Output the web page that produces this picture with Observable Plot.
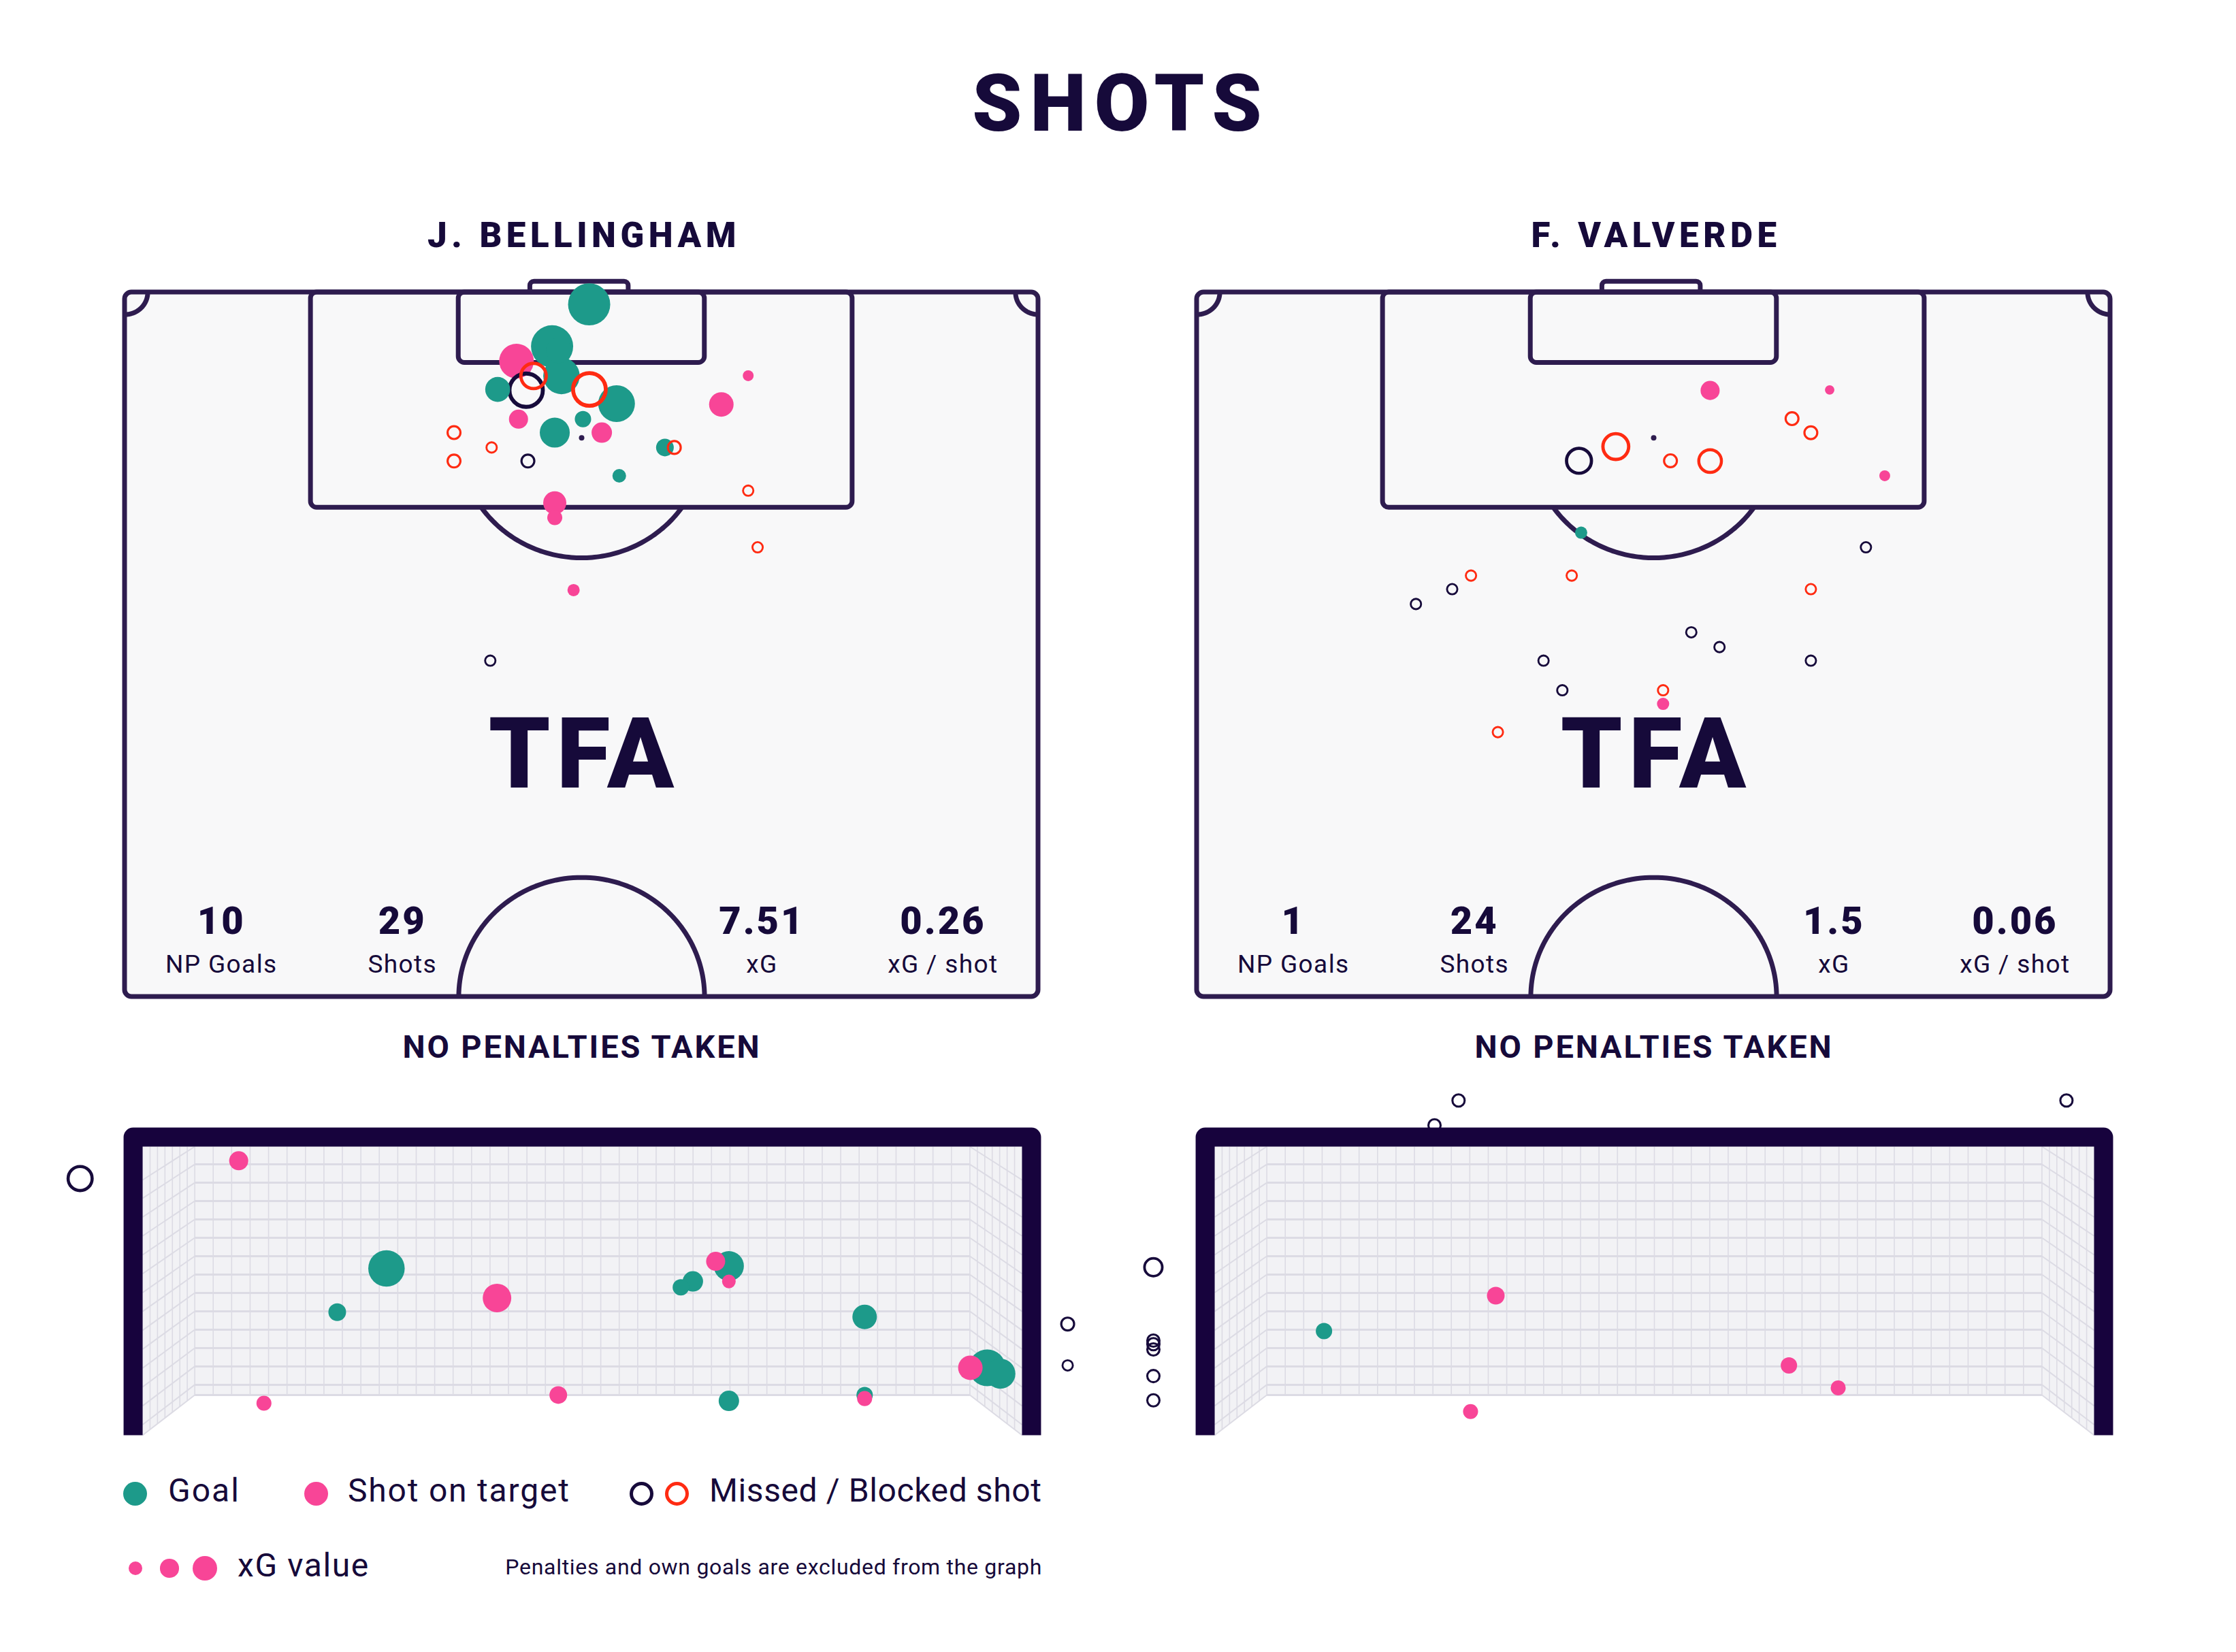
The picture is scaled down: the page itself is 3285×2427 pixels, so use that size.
<!DOCTYPE html>
<html><head><meta charset="utf-8">
<script src="https://cdn.jsdelivr.net/npm/d3@7"></script>
<script src="https://cdn.jsdelivr.net/npm/@observablehq/plot@0.6"></script>
<style>
body{margin:0;background:#fff;}
#page{position:relative;width:3285px;height:2427px;overflow:hidden;background:#fff;font-family:Roboto,"Noto Sans",sans-serif;color:#160a3a;}
.t{position:absolute;line-height:1;white-space:nowrap;}
.c{transform:translateX(-50%);}
.dot{position:absolute;border-radius:50%;box-sizing:border-box;}
</style></head><body><div id="page"></div>
<script>
// ---------------- DATA ----------------
const title = "SHOTS";
const players = ["J. BELLINGHAM", "F. VALVERDE"];
const penaltyNote = "NO PENALTIES TAKEN";
const statLabels = ["NP Goals", "Shots", "xG", "xG / shot"];
const bellinghamStats = ["10", "29", "7.51", "0.26"];
const valverdeStats = ["1", "24", "1.5", "0.06"];

// Shot locations on the half pitch (x across 0-68, y from goal line 0-54)
const bellShotX = [30.42, 29.87, 34.58, 24.5, 24.5, 27.3, 30.0, 40.9, 46.4, 47.1, 27.2,
  32.3, 34.56, 31.8, 29.15, 32.5, 27.75, 36.6, 44.4, 46.4, 29.3, 34.1, 32.0, 35.5, 40.2, 36.8, 32.0, 32.0, 33.4];
const bellShotY = [6.41, 7.50, 7.44, 10.75, 12.93, 11.89, 12.93, 11.89, 15.20, 19.54, 28.23,
  4.45, 0.92, 4.14, 5.27, 6.41, 7.44, 8.53, 8.59, 6.39, 9.72, 9.72, 10.75, 10.75, 11.89, 14.06, 16.13, 17.27, 22.82];
const bellShotXG = [0.30, 0.52, 0.50, 0.077, 0.077, 0.05, 0.077, 0.077, 0.05, 0.05, 0.05,
  0.30, 0.83, 0.83, 0.56, 0.62, 0.29, 0.63, 0.28, 0.055, 0.17, 0.125, 0.42, 0.195, 0.146, 0.087, 0.25, 0.105, 0.07];
const bellShotOutcome = ["Blocked", "Missed", "Blocked", "Blocked", "Blocked", "Blocked", "Missed", "Blocked", "Blocked", "Blocked", "Missed",
  "Goal", "Goal", "Goal", "On target", "Goal", "Goal", "Goal", "On target", "On target", "On target", "Goal", "Goal", "On target", "Goal", "Goal", "On target", "On target", "On target"];

const valvShotX = [44.3, 45.7, 31.18, 28.44, 35.25, 38.2, 49.8, 20.4, 19.0, 16.3, 27.9, 45.7, 36.8, 38.9, 25.8, 45.7, 27.2, 34.7, 22.4,
  38.2, 47.1, 51.2, 28.6, 34.7];
const valvShotY = [9.68, 10.76, 11.82, 12.91, 12.91, 12.93, 19.54, 21.71, 22.75, 23.89, 21.71, 22.75, 26.06, 27.19, 28.23, 28.23, 30.50, 30.50, 33.71,
  7.52, 7.48, 14.06, 18.42, 31.54];
const valvShotXG = [0.077, 0.077, 0.31, 0.29, 0.077, 0.24, 0.05, 0.05, 0.05, 0.05, 0.05, 0.05, 0.05, 0.05, 0.05, 0.05, 0.05, 0.05, 0.05,
  0.17, 0.042, 0.055, 0.07, 0.07];
const valvShotOutcome = ["Blocked", "Blocked", "Blocked", "Missed", "Blocked", "Blocked", "Missed", "Blocked", "Missed", "Missed", "Blocked", "Blocked", "Missed", "Missed", "Missed", "Missed", "Missed", "Blocked", "Blocked",
  "On target", "On target", "On target", "Goal", "On target"];

// Shot end locations in the goal mouth (metres: x from left post 0-7.32, z height 0-2.44)
const bellGoalX = [-0.52, 7.70, 7.70, 0.80, 2.03, 1.62, 2.95, 4.77, 4.88, 4.58, 4.48, 4.88, 6.01, 3.46, 1.01, 4.88, 6.01, 6.01, 6.89, 7.03, 7.14];
const bellGoalZ = [2.17, 0.94, 0.59, 2.32, 1.41, 1.04, 1.16, 1.47, 1.43, 1.30, 1.25, 1.30, 1.00, 0.34, 0.27, 0.29, 0.31, 0.34, 0.57, 0.57, 0.52];
const bellGoalXG = [0.27, 0.077, 0.05, 0.17, 0.62, 0.146, 0.38, 0.17, 0.42, 0.195, 0.125, 0.087, 0.28, 0.146, 0.105, 0.195, 0.105, 0.125, 0.28, 0.63, 0.42];
const bellGoalOutcome = ["Missed", "Missed", "Missed", "On target", "Goal", "Goal", "On target", "On target", "Goal", "Goal", "Goal", "On target", "Goal", "On target", "On target", "Goal", "On target", "Goal", "On target", "Goal", "Goal"];

const valvGoalX = [2.03, 1.83, 7.09, -0.51, -0.51, -0.51, -0.51, -0.51, -0.51, 0.91, 2.34, 4.78, 5.19, 2.13];
const valvGoalZ = [2.83, 2.62, 2.83, 1.42, 0.80, 0.77, 0.725, 0.50, 0.295, 0.88, 1.18, 0.59, 0.40, 0.20];
const valvGoalXG = [0.07, 0.07, 0.07, 0.148, 0.07, 0.07, 0.07, 0.07, 0.07, 0.125, 0.146, 0.125, 0.105, 0.105];
const valvGoalOutcome = ["Missed", "Missed", "Missed", "Missed", "Missed", "Missed", "Missed", "Missed", "Missed", "Goal", "On target", "On target", "On target", "On target"];

const legendLabels = ["Goal", "Shot on target", "Missed / Blocked shot", "xG value"];
const legendXG = [0.087, 0.16, 0.28];
const footnote = "Penalties and own goals are excluded from the graph";

// ---------------- STYLE ----------------
const TEAL = "#1d9a8a", PINK = "#f84597", RED = "#ff2b12", DARK = "#170b3b", TXT = "#160a3a";
const LINE = "#2e1c4f", PITCHBG = "#f8f8f9", NETBG = "#f2f2f5", NETLINE = "#dcdbe4", FRAME = "#17033d";
const rScale = {type: "sqrt", domain: [0, 1], range: [0, 34]};
const fillOf = d => d.o === "Goal" ? TEAL : d.o === "On target" ? PINK : "none";
const strokeOf = d => d.o === "Missed" ? DARK : d.o === "Blocked" ? RED : "none";
const swOf = d => (d.o === "Missed" || d.o === "Blocked") ? 1.5 + 6 * Math.sqrt(d.xg) : 0;

const page = document.getElementById("page");
function place(node, left, top) {
  node.style.position = "absolute"; node.style.left = left + "px"; node.style.top = top + "px";
  page.appendChild(node); return node;
}
function text(str, x, top, size, weight, spacing, center = true, extra = "") {
  const d = document.createElement("div");
  d.className = "t" + (center ? " c" : "");
  d.textContent = str;
  d.style.cssText += `left:${x}px;top:${top}px;font-size:${size}px;font-weight:${weight};letter-spacing:${spacing}px;${extra}`;
  page.appendChild(d); return d;
}
const table = (X, Y, V, O) => X.map((x, i) => ({x, y: Y[i], xg: V[i], o: O[i]}));

function arc(cx, cy, r, a0, a1, id, n = 90) {
  return d3.range(n + 1).map(i => {
    const a = a0 + (a1 - a0) * i / n;
    return {x: cx + r * Math.cos(a), y: cy + r * Math.sin(a), id};
  });
}

// ---------------- PITCH ----------------
const PL = 54; // drawn half-pitch length
const STAT_X = [7.18, 20.66, 47.42, 60.9];
function pitchPlot(shots, stats) {
  const lw = 7;
  const boxes = [
    {x1: 13.84, x2: 54.16, y1: 0, y2: 16.5},
    {x1: 24.84, x2: 43.16, y1: 0, y2: 5.4}
  ];
  const a = Math.asin(5.3 / 9.15);
  const arcs = [
    ...arc(34, 11.2, 9.15, a, Math.PI - a, "pen"),
    ...arc(34, PL, 9.15, Math.PI, 2 * Math.PI, "centre"),
    ...arc(0, 0, 1.7, 0, Math.PI / 2, "c1"),
    ...arc(68, 0, 1.7, Math.PI / 2, Math.PI, "c2")
  ];
  const statRows = statLabels.map((l, i) => ({x: STAT_X[i], v: stats[i], l, yv: 49.15, yl: 52.14}));
  const svg = Plot.plot({
    width: 1440, height: 1140, margin: 0,
    x: {domain: [0, 68], range: [43, 1385], axis: null},
    y: {domain: [0, PL], range: [49, 1084], axis: null},
    r: rScale, color: {type: "identity"},
    style: {background: "transparent", overflow: "visible"},
    marks: [
      Plot.rect([{x1: 30.17, x2: 37.49, y1: -0.82, y2: 0.3}], {x1: "x1", x2: "x2", y1: "y1", y2: "y2", fill: "#fff", stroke: LINE, strokeWidth: lw, rx: 6}),
      Plot.rect([{x1: 0, x2: 68, y1: 0, y2: PL}], {x1: "x1", x2: "x2", y1: "y1", y2: "y2", fill: PITCHBG, stroke: LINE, strokeWidth: lw, rx: 10}),
      Plot.rect(boxes, {x1: "x1", x2: "x2", y1: "y1", y2: "y2", fill: "none", stroke: LINE, strokeWidth: lw, rx: 9}),
      Plot.line(arcs, {x: "x", y: "y", z: "id", stroke: LINE, strokeWidth: lw, strokeLinecap: "butt"}),
      Plot.dot([{x: 34, y: 11.15}], {x: "x", y: "y", r: 4, fill: LINE}),
      Plot.text([{x: 34.2, y: 37.97, t: "TFA"}], {x: "x", y: "y", text: "t", fontSize: 144, fontWeight: 900, fontFamily: "Roboto", fill: TXT, lineAnchor: "bottom"}),
      Plot.text(statRows, {x: "x", y: "yv", text: "v", fontSize: 56, fontWeight: 900, fontFamily: "Roboto", fill: TXT, lineAnchor: "bottom"}),
      Plot.text(statRows, {x: "x", y: "yl", text: "l", fontSize: 37, fontWeight: 400, fontFamily: "Roboto", fill: TXT, lineAnchor: "bottom"}),
      Plot.dot(shots, {x: "x", y: "y", r: "xg", fill: fillOf, stroke: strokeOf, strokeWidth: swOf})
    ]
  });
  d3.select(svg).selectAll("text").each(function () {
    const s = this.textContent;
    if (s === "TFA") this.style.letterSpacing = "9px";
    else if (stats.includes(s)) this.style.letterSpacing = "3px";
    else if (statLabels.includes(s)) this.style.letterSpacing = "1.4px";
  });
  return svg;
}

// ---------------- GOAL ----------------
function goalPlot(shots) {
  const bx0 = 0.434, bx1 = 6.886, bz0 = 0.34, top = 2.44, W = 7.32;
  const vLines = d3.range(43).map(i => {const x = bx0 + (bx1 - bx0) * i / 42; return {x1: x, y1: bz0, x2: x, y2: top};});
  const hz = [...d3.range(13).map(k => 2.29 - k * 0.1553), bz0];
  const hLines = hz.map(z => ({x1: bx0, y1: z, x2: bx1, y2: z}));
  const front = z => (z - bz0) / (top - bz0) * 2.158;
  const diag = [2.44, ...hz].flatMap(z => [
    {x1: bx0, y1: z, x2: 0, y2: front(z)},
    {x1: bx1, y1: z, x2: W, y2: front(z)}
  ]);
  const sideV = d3.range(1, 7).flatMap(i => {
    const x = bx0 * i / 7, zb = bz0 * i / 7;
    return [{x1: x, y1: zb, x2: x, y2: top}, {x1: W - x, y1: zb, x2: W - x, y2: top}];
  });
  const sideL = [{x: 0, y1: 0, y2: top}, {x: bx0, y1: bz0, y2: top}];
  const sideR = [{x: bx1, y1: bz0, y2: top}, {x: W, y1: 0, y2: top}];
  const frame = [{x: -0.079, y: 0}, {x: -0.079, y: 2.52}, {x: W + 0.079, y: 2.52}, {x: W + 0.079, y: 0}];
  const misses = shots.filter(d => d.o === "Missed" || d.o === "Blocked");
  const onT = shots.filter(d => d.o === "Goal" || d.o === "On target");
  return Plot.plot({
    width: 1600, height: 600, margin: 0,
    x: {domain: [0, W], range: [149, 1441], axis: null},
    y: {domain: [0, top], range: [548, 124], axis: null},
    r: rScale, color: {type: "identity"},
    style: {background: "transparent", overflow: "visible"},
    marks: [
      Plot.rect([{x1: bx0, x2: bx1, y1: bz0, y2: top}], {x1: "x1", x2: "x2", y1: "y1", y2: "y2", fill: NETBG}),
      Plot.areaY(sideL, {x: "x", y1: "y1", y2: "y2", fill: NETBG}),
      Plot.areaY(sideR, {x: "x", y1: "y1", y2: "y2", fill: NETBG}),
      Plot.link(vLines, {x1: "x1", y1: "y1", x2: "x2", y2: "y2", stroke: NETLINE, strokeWidth: 1.6}),
      Plot.link(sideV, {x1: "x1", y1: "y1", x2: "x2", y2: "y2", stroke: NETLINE, strokeWidth: 1.6}),
      Plot.link(diag, {x1: "x1", y1: "y1", x2: "x2", y2: "y2", stroke: NETLINE, strokeWidth: 2}),
      Plot.link(hLines, {x1: "x1", y1: "y1", x2: "x2", y2: "y2", stroke: NETLINE, strokeWidth: 3}),
      Plot.dot(misses, {x: "x", y: "y", r: "xg", fill: fillOf, stroke: strokeOf, strokeWidth: swOf}),
      Plot.line(frame, {x: "x", y: "y", stroke: FRAME, strokeWidth: 28, strokeLinejoin: "round", strokeLinecap: "butt"}),
      Plot.dot(onT, {x: "x", y: "y", r: "xg", fill: fillOf, stroke: strokeOf, strokeWidth: swOf})
    ]
  });
}

// ---------------- LAYOUT ----------------
const PANEL_DX = 1575;
text(title, 1647, 94, 117, 900, 12, true, "color:" + TXT);
const panels = [
  {name: players[0], stats: bellinghamStats, shots: table(bellShotX, bellShotY, bellShotXG, bellShotOutcome), goal: table(bellGoalX, bellGoalZ, bellGoalXG, bellGoalOutcome)},
  {name: players[1], stats: valverdeStats, shots: table(valvShotX, valvShotY, valvShotXG, valvShotOutcome), goal: table(valvGoalX, valvGoalZ, valvGoalXG, valvGoalOutcome)}
];
panels.forEach((p, i) => {
  const dx = i * PANEL_DX;
  text(p.name, 858 + dx, 320, 51, 900, 6.5);
  place(pitchPlot(p.shots, p.stats), 140 + dx, 380);
  text(penaltyNote, 855 + dx, 1514, 47, 700, 2.85);
  place(goalPlot(p.goal), 60 + dx, 1560);
});

// ---------------- LEGEND ----------------
function circle(cx, cy, d, fill, border) {
  const e = document.createElement("div");
  e.className = "dot";
  e.style.cssText += `left:${cx - d / 2}px;top:${cy - d / 2}px;width:${d}px;height:${d}px;` +
    (fill ? `background:${fill};` : "") + (border ? `border:${border};` : "");
  page.appendChild(e);
}
const sz = v => 2 * 34 * Math.sqrt(v);
circle(198, 2194, 35, TEAL);
text(legendLabels[0], 247, 2166, 48, 400, 2, false);
circle(464, 2194, 35, PINK);
text(legendLabels[1], 511, 2166, 48, 400, 1.8, false);
circle(942, 2194, 35, null, `5px solid ${DARK}`);
circle(994, 2194, 35, null, `5px solid ${RED}`);
text(legendLabels[2], 1042, 2166, 48, 400, 0.6, false);
[199, 249, 301].forEach((cx, i) => circle(cx, 2304, sz(legendXG[i]), PINK));
text(legendLabels[3], 349, 2276, 48, 400, 1.6, false);
const fn = text(footnote, 0, 2286, 32, 400, 0.7, false);
fn.style.left = "auto"; fn.style.right = (3285 - 1531) + "px";
</script></body></html>
